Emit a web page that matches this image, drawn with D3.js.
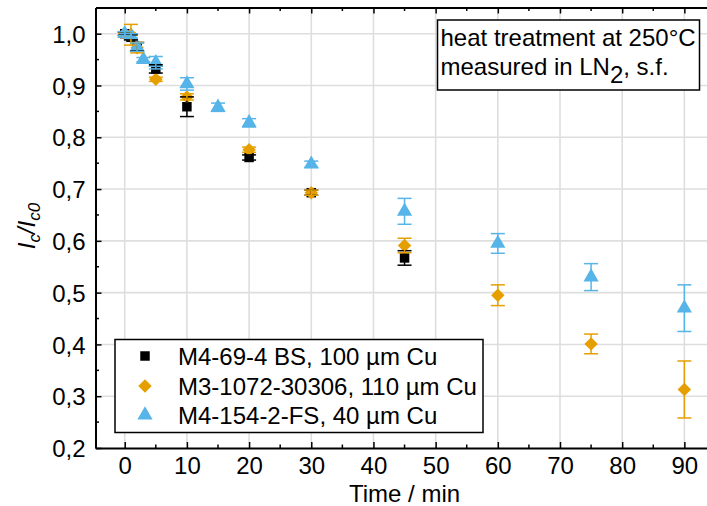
<!DOCTYPE html>
<html>
<head>
<meta charset="utf-8">
<script src="https://cdn.jsdelivr.net/npm/d3@7/dist/d3.min.js"></script>
<style>
  html, body { margin: 0; padding: 0; background: #fff; }
  svg { display: block; font-family: "Liberation Sans", Arial, sans-serif; }
</style>
</head>
<body>
<svg id="chart" width="707" height="506"></svg>
<script>
// Normalised critical current vs. annealing time at 250 °C
const xTicks = [0, 10, 20, 30, 40, 50, 60, 70, 80, 90];
const yTicks = [0.2, 0.3, 0.4, 0.5, 0.6, 0.7, 0.8, 0.9, 1.0];

const seriesNames = ["M4-69-4 BS, 100 µm Cu", "M3-1072-30306, 110 µm Cu", "M4-154-2-FS, 40 µm Cu"];

const bsTime = [0, 1, 2, 5, 10, 20, 30, 45];
const bsValue = [1.0, 0.993, 0.975, 0.932, 0.859, 0.761, 0.693, 0.567];
const bsError = [0.003, 0.005, 0.008, 0.008, 0.019, 0.005, 0.005, 0.014];

const m3Time = [0, 1, 2, 5, 10, 20, 30, 45, 60, 75, 90];
const m3Value = [1.0, 0.998, 0.973, 0.912, 0.878, 0.776, 0.693, 0.591, 0.495, 0.401, 0.313];
const m3Error = [0.004, 0.02, 0.01, 0.004, 0.006, 0.005, 0.005, 0.014, 0.02, 0.019, 0.055];

const fsTime = [0, 1, 2, 3, 5, 10, 15, 20, 30, 45, 60, 75, 90];
const fsValue = [1.0, 0.996, 0.974, 0.95, 0.944, 0.903, 0.858, 0.828, 0.748, 0.657, 0.595, 0.530, 0.470];
const fsError = [0.004, 0.004, 0.008, 0.004, 0.012, 0.012, 0.008, 0.008, 0.006, 0.025, 0.019, 0.026, 0.045];

const colors = ["#000000", "#E69F00", "#56B4E9"];
const shapes = [d3.symbolSquare, d3.symbolDiamond2, d3.symbolTriangle];
const sizes = [90, 115, 100];
const FS = 24;

const svg = d3.select("#chart");
const plotL = 95.5, plotR = 708, plotT = 7.5, plotB = 448;

const x = d3.scaleLinear().domain([-4.7, 93.8]).range([plotL, plotR]);
const y = d3.scaleLinear().domain([0.2, 1.0506]).range([plotB, plotT]);

// grid
const grid = svg.append("g").attr("stroke", "#dedede").attr("stroke-width", 1.6);
grid.selectAll("line.gx").data(xTicks).join("line")
  .attr("x1", d => x(d)).attr("x2", d => x(d)).attr("y1", plotT).attr("y2", plotB);
grid.selectAll("line.gy").data(yTicks.filter(v => v > 0.2)).join("line")
  .attr("x1", plotL).attr("x2", plotR).attr("y1", d => y(d)).attr("y2", d => y(d));

// axes (ticks pointing inwards)
const xMinor = d3.range(-5, 95, 5).filter(v => v % 10 !== 0 && v > -4.7);
const yMinor = d3.range(0.25, 1.05, 0.1);

const xAxis = svg.append("g").attr("transform", `translate(0,${plotB})`)
  .call(d3.axisBottom(x).tickValues(xTicks).tickSizeInner(-6).tickSizeOuter(0).tickPadding(9));
xAxis.append("g").selectAll("line").data(xMinor).join("line")
  .attr("x1", d => x(d)).attr("x2", d => x(d)).attr("y1", 0).attr("y2", -3.5)
  .attr("stroke", "#000").attr("stroke-width", 1.5);

const xTop = svg.append("g").attr("transform", `translate(0,${plotT})`)
  .call(d3.axisTop(x).tickValues(xTicks).tickSizeInner(-6).tickSizeOuter(0).tickFormat(""));
xTop.append("g").selectAll("line").data(xMinor).join("line")
  .attr("x1", d => x(d)).attr("x2", d => x(d)).attr("y1", 0).attr("y2", 3.5)
  .attr("stroke", "#000").attr("stroke-width", 1.5);

const yAxis = svg.append("g").attr("transform", `translate(${plotL},0)`)
  .call(d3.axisLeft(y).tickValues(yTicks).tickSizeInner(-6).tickSizeOuter(0).tickPadding(10)
    .tickFormat(d => d3.format(".1f")(d).replace(".", ",")));
yAxis.append("g").selectAll("line").data(yMinor).join("line")
  .attr("x1", 0).attr("x2", 3.5).attr("y1", d => y(d)).attr("y2", d => y(d))
  .attr("stroke", "#000").attr("stroke-width", 1.5);

[xAxis, xTop, yAxis].forEach(g => {
  g.select(".domain").attr("stroke-width", 2);
  g.selectAll(".tick line").attr("stroke-width", 1.5);
  g.selectAll(".tick text").attr("font-size", FS).attr("fill", "#000")
    .attr("font-family", "'Liberation Sans', Arial, sans-serif");
});
yAxis.selectAll(".tick text").attr("dy", "0.36em");

// axis titles
svg.append("text").attr("x", x(45)).attr("y", 502).attr("text-anchor", "middle")
  .attr("font-size", FS).text("Time / min");

const yt = svg.append("text").attr("transform", "translate(35,226) rotate(-90)")
  .attr("text-anchor", "middle").attr("font-size", FS).attr("font-style", "italic");
yt.append("tspan").text("I");
yt.append("tspan").attr("font-size", 17).attr("dy", 5).text("c");
yt.append("tspan").attr("dy", -5).text("/I");
yt.append("tspan").attr("font-size", 17).attr("dy", 5).text("c0");

// data
const series = [
  { t: bsTime, v: bsValue, e: bsError },
  { t: m3Time, v: m3Value, e: m3Error },
  { t: fsTime, v: fsValue, e: fsError }
].map((s, i) => ({
  color: colors[i], shape: shapes[i], name: seriesNames[i],
  pts: s.t.map((t, j) => ({ t, v: s.v[j], e: s.e[j] }))
}));

series.forEach((s, i) => {
  svg.append("g").selectAll("path").data(s.pts).join("path")
    .attr("transform", d => `translate(${x(d.t)},${y(d.v)})`)
    .attr("d", d3.symbol().type(s.shape).size(sizes[i]))
    .attr("fill", s.color);
});

series.forEach(s => {
  const g = svg.append("g").attr("stroke", s.color).attr("stroke-width", 1.5).attr("fill", "none");
  const eb = g.selectAll("g").data(s.pts.filter(d => d.e > 0)).join("g");
  eb.append("line").attr("x1", d => x(d.t)).attr("x2", d => x(d.t))
    .attr("y1", d => y(d.v + d.e)).attr("y2", d => y(d.v - d.e));
  eb.append("line").attr("x1", d => x(d.t) - 7).attr("x2", d => x(d.t) + 7)
    .attr("y1", d => y(d.v + d.e)).attr("y2", d => y(d.v + d.e));
  eb.append("line").attr("x1", d => x(d.t) - 7).attr("x2", d => x(d.t) + 7)
    .attr("y1", d => y(d.v - d.e)).attr("y2", d => y(d.v - d.e));
});

// legend
const lg = svg.append("g");
lg.append("rect").attr("x", 115).attr("y", 339.5).attr("width", 368).attr("height", 93)
  .attr("fill", "#fff").attr("stroke", "#000").attr("stroke-width", 1.5);
const legendRows = [356, 386, 415];
series.forEach((s, i) => {
  lg.append("path").attr("transform", `translate(145,${legendRows[i]})`)
    .attr("d", d3.symbol().type(s.shape).size(sizes[i])).attr("fill", s.color);
  lg.append("text").attr("x", 178).attr("y", legendRows[i] + 8.5).attr("font-size", FS).text(s.name);
});

// annotation
const an = svg.append("g");
an.append("rect").attr("x", 437.5).attr("y", 20).attr("width", 262).attr("height", 70)
  .attr("fill", "#fff").attr("stroke", "#000").attr("stroke-width", 1.5);
an.append("text").attr("x", 440.5).attr("y", 46).attr("font-size", FS).text("heat treatment at 250°C");
const l2 = an.append("text").attr("x", 440.5).attr("y", 75).attr("font-size", FS);
l2.append("tspan").text("measured in LN");
l2.append("tspan").attr("dy", 8).text("2");
l2.append("tspan").attr("dy", -8).text(", s.f.");
</script>
</body>
</html>
